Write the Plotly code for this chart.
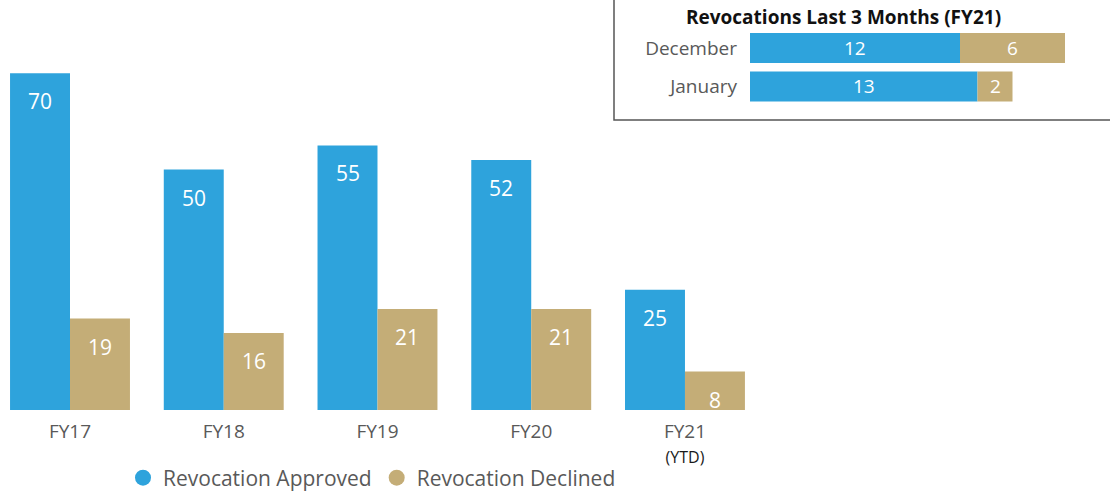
import plotly.graph_objects as go

# Main chart data
years = ["FY17", "FY18", "FY19", "FY20", "FY21"]
year_ticks = ["FY17", "FY18", "FY19", "FY20",
              "FY21<br><span style='font-size:16px;color:#1a1a1a'>(YTD)</span>"]
approved = [70, 50, 55, 52, 25]
declined = [19, 16, 21, 21, 8]

# Inset data
months = ["December", "January"]
m_approved = [12, 13]
m_declined = [6, 2]

BLUE = "#2ea3dc"
TAN = "#c4ad77"
GRAY = "#595959"
FONT = "Open Sans"

W, H = 1110, 492
MB = 82
PH = H - MB

fig = go.Figure()
idx = list(range(len(years)))

fig.add_trace(go.Bar(x=idx, y=approved, marker=dict(color=BLUE, line=dict(width=0)),
                     name="Revocation Approved", showlegend=False, xaxis="x", yaxis="y"))
fig.add_trace(go.Bar(x=idx, y=declined, marker=dict(color=TAN, line=dict(width=0)),
                     name="Revocation Declined", showlegend=False, xaxis="x", yaxis="y"))

# legend-only circle markers
fig.add_trace(go.Scatter(x=[None], y=[None], mode="markers", name="Revocation Approved",
                         marker=dict(color=BLUE, size=18, symbol="circle")))
fig.add_trace(go.Scatter(x=[None], y=[None], mode="markers", name="Revocation Declined",
                         marker=dict(color=TAN, size=18, symbol="circle")))

# data labels for main chart
half = 0.78 / 4
annotations = []
for i, (a, d) in enumerate(zip(approved, declined)):
    annotations.append(dict(x=i - half, y=a, xref="x", yref="y", text=str(a), showarrow=False,
                            yshift=-28, font=dict(color="white", size=21, family=FONT)))
    annotations.append(dict(x=i + half, y=d, xref="x", yref="y", text=str(d), showarrow=False,
                            yshift=-28, font=dict(color="white", size=21, family=FONT)))

# Inset stacked bars
fig.add_trace(go.Bar(y=months, x=m_approved, orientation="h",
                     marker=dict(color=BLUE, line=dict(width=0)),
                     offsetgroup="inset", showlegend=False, xaxis="x2", yaxis="y2"))
fig.add_trace(go.Bar(y=months, x=m_declined, base=m_approved, orientation="h",
                     marker=dict(color=TAN, line=dict(width=0)),
                     offsetgroup="inset", showlegend=False, xaxis="x2", yaxis="y2"))

for m, a, d in zip(months, m_approved, m_declined):
    annotations.append(dict(x=a / 2, y=m, xref="x2", yref="y2", text=str(a), showarrow=False,
                            xanchor="center", yanchor="middle",
                            font=dict(color="white", size=19, family=FONT)))
    annotations.append(dict(x=a + d / 2, y=m, xref="x2", yref="y2", text=str(d), showarrow=False,
                            xanchor="center", yanchor="middle",
                            font=dict(color="white", size=19, family=FONT)))

annotations.append(dict(x=843 / W, y=(PH - 17) / PH, xref="paper", yref="paper",
                        xanchor="center", yanchor="middle",
                        text="<b>Revocations Last 3 Months (FY21)</b>", showarrow=False,
                        font=dict(color="#111111", size=19, family=FONT)))


def py(pix):
    return (PH - pix) / PH


fig.update_layout(
    width=W, height=H,
    margin=dict(l=0, r=0, t=0, b=MB, autoexpand=False),
    paper_bgcolor="white", plot_bgcolor="white",
    barmode="group", bargap=0.22, bargroupgap=0,
    font=dict(family=FONT, color=GRAY),
    xaxis=dict(domain=[0, 760 / W], range=[-70 / 153.75, 4.488], tickvals=idx, ticktext=year_ticks,
               showgrid=False, zeroline=False, showline=False, ticks="",
               ticklabelstandoff=8,
               tickfont=dict(size=19, color=GRAY, family=FONT)),
    yaxis=dict(domain=[0, 1], range=[0, PH / 4.81], showgrid=False, zeroline=False,
               showticklabels=False, showline=False),
    xaxis2=dict(domain=[750 / W, 1], range=[0, 360 / 17.5], anchor="y2", showgrid=False,
                zeroline=False, showticklabels=False, showline=False),
    yaxis2=dict(domain=[py(105.75), py(28.75)], anchor="x2", autorange="reversed",
                showgrid=False, zeroline=False, showline=False, ticks="",
                ticklabelstandoff=12,
                tickfont=dict(size=19, color=GRAY, family=FONT)),
    legend=dict(orientation="h", x=372 / W, xanchor="center", y=py(478), yanchor="middle",
                font=dict(size=21, color=GRAY, family=FONT), itemwidth=30,
                bgcolor="rgba(0,0,0,0)"),
    annotations=annotations,
    shapes=[dict(type="rect", xref="paper", yref="paper", x0=614 / W, x1=1.01,
                 y0=py(120), y1=1.02, line=dict(color="#555555", width=1.5),
                 fillcolor="rgba(0,0,0,0)", layer="above")],
)

fig.write_html("out.html", config={"displayModeBar": False},
               post_script="document.body.style.margin='0px';")
